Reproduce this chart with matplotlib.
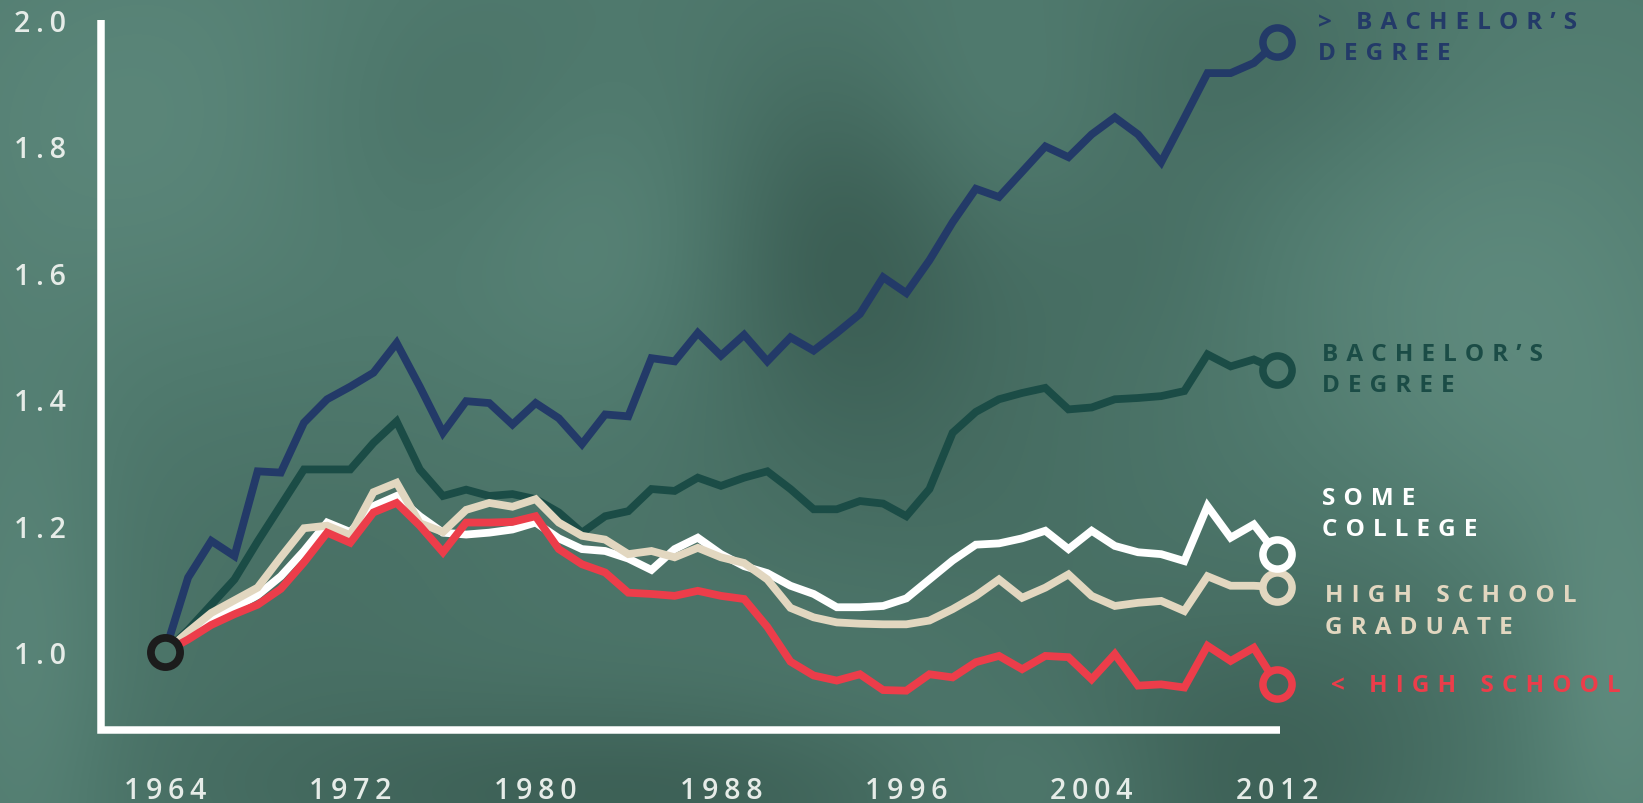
import numpy as np
import matplotlib
matplotlib.use("Agg")
import matplotlib.pyplot as plt
from matplotlib.colors import LinearSegmentedColormap, TwoSlopeNorm

plt.rcParams['font.family'] = ['Open Sans', 'DejaVu Sans']

# ratio of wages to 1964 level, by education
years = list(range(1964, 2013))

more_than_ba = [1.000, 1.118, 1.176, 1.152, 1.286, 1.284, 1.363, 1.400, 1.420, 1.442,
                1.489, 1.420, 1.347, 1.397, 1.394, 1.360, 1.394, 1.370, 1.329, 1.376,
                1.373, 1.465, 1.460, 1.505, 1.469, 1.502, 1.460, 1.498, 1.477, 1.505,
                1.535, 1.593, 1.568, 1.620, 1.680, 1.733, 1.720, 1.760, 1.800, 1.783,
                1.819, 1.846, 1.819, 1.775, 1.845, 1.916, 1.916, 1.932, 1.965]

bachelors = [1.000, 1.035, 1.075, 1.115, 1.175, 1.232, 1.289, 1.289, 1.289, 1.331,
             1.365, 1.289, 1.247, 1.257, 1.247, 1.250, 1.242, 1.221, 1.189, 1.215,
             1.223, 1.258, 1.255, 1.276, 1.263, 1.276, 1.286, 1.258, 1.226, 1.226,
             1.239, 1.235, 1.215, 1.258, 1.347, 1.380, 1.400, 1.410, 1.418, 1.384,
             1.387, 1.400, 1.402, 1.405, 1.413, 1.471, 1.452, 1.463, 1.447]

some_college = [1.000, 1.025, 1.050, 1.070, 1.090, 1.120, 1.160, 1.205, 1.190, 1.231,
                1.247, 1.215, 1.189, 1.186, 1.189, 1.194, 1.205, 1.180, 1.163, 1.160,
                1.148, 1.130, 1.163, 1.181, 1.155, 1.136, 1.125, 1.105, 1.092, 1.071,
                1.071, 1.073, 1.085, 1.115, 1.145, 1.170, 1.172, 1.180, 1.192, 1.163,
                1.192, 1.168, 1.158, 1.155, 1.144, 1.231, 1.181, 1.202, 1.155]

hs_grad = [1.000, 1.032, 1.062, 1.082, 1.102, 1.150, 1.196, 1.200, 1.185, 1.253,
           1.268, 1.204, 1.190, 1.225, 1.236, 1.230, 1.242, 1.205, 1.184, 1.178,
           1.155, 1.160, 1.150, 1.165, 1.150, 1.141, 1.115, 1.070, 1.055, 1.047,
           1.045, 1.044, 1.044, 1.050, 1.068, 1.089, 1.115, 1.086, 1.102, 1.123,
           1.089, 1.073, 1.078, 1.081, 1.065, 1.120, 1.105, 1.105, 1.103]

less_than_hs = [1.000, 1.020, 1.043, 1.060, 1.075, 1.100, 1.142, 1.189, 1.173, 1.221,
                1.236, 1.200, 1.158, 1.205, 1.205, 1.206, 1.215, 1.163, 1.139, 1.126,
                1.094, 1.092, 1.089, 1.097, 1.089, 1.084, 1.040, 0.985, 0.963, 0.955,
                0.965, 0.940, 0.939, 0.965, 0.960, 0.984, 0.994, 0.973, 0.994, 0.992,
                0.957, 0.997, 0.947, 0.949, 0.944, 1.010, 0.986, 1.007, 0.949]

labels = ["> BACHELOR\u2019S\nDEGREE", "BACHELOR\u2019S\nDEGREE", "SOME\nCOLLEGE",
          "HIGH SCHOOL\nGRADUATE", "< HIGH SCHOOL"]
colors = ['#233a68', '#1b4c46', '#ffffff', '#e2d7c0', '#ec3d4a']
# label offset from the end circle, pixels (dx, dy up)
label_offsets = [(41, 5), (45, 0), (45, 41), (48, -24), (54, -1)]

yticks = [1.0, 1.2, 1.4, 1.6, 1.8, 2.0]
xticks = [1964, 1972, 1980, 1988, 1996, 2004, 2012]


def spaced(s, gap):
    # fake letter spacing, word space = one more gap
    out = []
    for line in s.split("\n"):
        words = [gap.join(w) for w in line.split(" ")]
        out.append((gap * 3).join(words))
    return "\n".join(out)


W, H = 1643, 804
fig = plt.figure(figsize=(W / 100, H / 100), dpi=100)

# blurred green backdrop
yy, xx = np.mgrid[0:H, 0:W]
blobs = [(840, 230, 110, 140, -0.6), (430, 120, 150, 110, -0.3), (1250, 60, 150, 90, -0.3),
         (1130, 220, 90, 100, -0.2), (650, 800, 300, 70, -0.5), (1230, 790, 120, 110, -0.45),
         (1400, 650, 110, 150, -0.25), (300, 600, 200, 180, -0.2), (950, 520, 220, 200, -0.25),
         (200, 120, 200, 150, 0.35), (620, 230, 120, 120, 0.3), (1000, 120, 130, 100, 0.25),
         (1500, 350, 150, 200, 0.4), (30, 650, 60, 200, 0.3), (1060, 790, 120, 60, 0.3),
         (1620, 700, 60, 150, 0.35), (880, 690, 120, 100, 0.12)]
field = np.zeros((H, W))
for bx, by, sx, sy, amp in blobs:
    field += amp * np.exp(-(((xx - bx) / sx) ** 2 + ((yy - by) / sy) ** 2) / 2)
cmap = LinearSegmentedColormap.from_list('bg', ['#3c5f55', '#507a6e', '#628e81'])
norm = TwoSlopeNorm(vcenter=0, vmin=-0.6, vmax=0.5)
bg = fig.add_axes([0, 0, 1, 1], zorder=0)
bg.imshow(field, cmap=cmap, norm=norm, aspect='auto', extent=(0, 1, 0, 1), origin='upper')
bg.axis('off')

ax = fig.add_axes([101 / W, 73 / H, 1179 / W, 710 / H], zorder=1)
ax.patch.set_alpha(0)
ax.set_xlim(1961.24, 2012.13)
ax.set_ylim(0.8768, 1.998)
for s in ax.spines.values():
    s.set_visible(False)
ax.plot([0, 0, 1], [1, 0, 0], transform=ax.transAxes, color='white', lw=5.4,
        solid_joinstyle='miter', solid_capstyle='butt', clip_on=False, zorder=2)

thin = '\u2009'
ax.set_yticks(yticks)
ax.set_yticklabels([spaced(f"{t:.1f}", thin) for t in yticks])
ax.set_xticks(xticks)
ax.set_xticklabels([spaced(str(t), thin) for t in xticks])
ax.tick_params(axis='both', length=0, labelsize=20.5, labelcolor='#e6ece8')
ax.tick_params(axis='y', pad=25)
ax.tick_params(axis='x', pad=33)
for lbl in ax.get_xticklabels() + ax.get_yticklabels():
    lbl.set_fontweight('semibold')

series = [more_than_ba, bachelors, some_college, hs_grad, less_than_hs]
zorders = [3, 3, 4, 5, 6]
order = [0, 1, 4, 3, 2]


def bg_color(x, y):
    px, py = ax.transData.transform((x, y))
    r = int(np.clip(H - py, 0, H - 1))
    c = int(np.clip(px, 0, W - 1))
    return cmap(norm(field[r, c]))


for i in order:
    vals = series[i]
    ax.plot(years, vals, color=colors[i], lw=5.6, solid_joinstyle='miter',
            solid_capstyle='butt', zorder=zorders[i], clip_on=False)
    ax.plot(years[-1], vals[-1], marker='o', ms=21, mew=5.4, mec=colors[i],
            mfc=bg_color(years[-1], vals[-1]), zorder=10, clip_on=False)
    dx, dy = label_offsets[i]
    ax.annotate(spaced(labels[i], '\u2004'), xy=(years[-1], vals[-1]),
                xytext=(dx * 0.72, dy * 0.72), textcoords='offset points',
                ha='left', va='center', fontsize=17.5, fontweight='bold',
                color=colors[i], linespacing=1.4, annotation_clip=False)

ax.plot(years[0], 1.0, marker='o', ms=21, mew=5.6, mec='#1c1c1c',
        mfc=bg_color(years[0], 1.0), zorder=11, clip_on=False)

fig.savefig('out.png', dpi=100)
